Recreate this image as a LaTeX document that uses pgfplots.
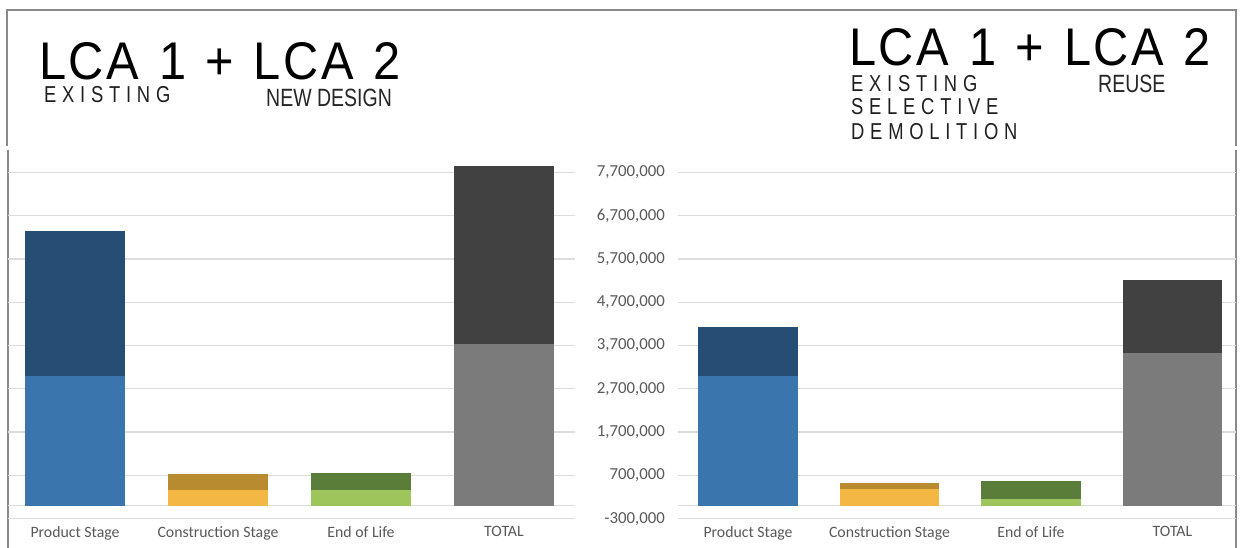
\documentclass[border=0pt]{standalone}
\usepackage{fontspec}
\setmainfont{Carlito}
\usepackage{pgfplots}
\pgfplotsset{compat=1.18}
\newfontfamily\titlefont[FakeStretch=0.92,LetterSpace=5]{Liberation Sans}
\newfontfamily\spacedfont[FakeStretch=0.8,LetterSpace=25]{Liberation Sans}
\newfontfamily\narrowfont[FakeStretch=0.78]{Liberation Sans}
\definecolor{blueL}{HTML}{3A75AE}
\definecolor{blueD}{HTML}{264E74}
\definecolor{yelL}{HTML}{F3B843}
\definecolor{yelD}{HTML}{B98B30}
\definecolor{grnL}{HTML}{9DC55B}
\definecolor{grnD}{HTML}{5A7D3A}
\definecolor{gryL}{HTML}{7B7B7B}
\definecolor{gryD}{HTML}{414141}
\definecolor{gridgray}{HTML}{DDDDDD}
\definecolor{labelgray}{HTML}{595959}
\definecolor{framegray}{HTML}{8A8A8A}
\newcommand{\lcatitle}{LCA\hspace{3.5pt} 1\hspace{3.5pt} +\hspace{3.5pt} LCA\hspace{3.5pt} 2}
\pgfplotsset{
  panel/.style={
    scale only axis, ybar,
    ymin=-400000, ymax=8000000, height=363.7pt,
    axis line style={draw=none}, major tick length=0pt,
    ytick={-300000,700000,1700000,2700000,3700000,4700000,5700000,6700000,7700000},
    scaled y ticks=false,
    ymajorgrids, grid style={line width=1.3pt, color=gridgray},
    extra y ticks={0}, extra y tick labels={},
    extra y tick style={grid style={line width=1.3pt, color=gridgray}},
    xtick={0,1,2,3},
    xticklabels={Product Stage, Construction Stage, End of Life, TOTAL},
    xticklabel style={anchor=north, inner sep=0pt, yshift=-3pt,
      font=\fontsize{15.8}{15.8}\selectfont, text=labelgray},
    yticklabel style={anchor=east, inner sep=0pt, xshift=-13pt,
      font=\fontsize{16.8}{16.8}\selectfont, text=labelgray},
  },
  bar/.style={fill=#1, draw=none, bar shift=0pt, bar width=0.706},
}
\begin{document}
\begin{tikzpicture}[x=1pt,y=1pt]
\fill[white] (0,0) rectangle (1241,548);
% frame
\draw[framegray, line width=1.6pt] (7,401.5) -- (7,538) -- (1236,538) -- (1236,401.5);
\draw[framegray, line width=1.6pt] (8,398) -- (8,0);
\draw[framegray, line width=1.6pt] (1236,398) -- (1236,0);
% titles
\node[anchor=base west, inner sep=0pt, font=\titlefont\fontsize{53}{53}\selectfont] at (39,468) {\lcatitle};
\node[anchor=base west, inner sep=0pt, font=\spacedfont\fontsize{23}{23}\selectfont, text=black!88] at (44,445) {EXISTING};
\node[anchor=base west, inner sep=0pt, font=\narrowfont\fontsize{25}{25}\selectfont, text=black!85] at (266,441) {NEW DESIGN};
\node[anchor=base west, inner sep=0pt, font=\titlefont\fontsize{53}{53}\selectfont] at (849,482) {\lcatitle};
\node[anchor=base west, inner sep=0pt, font=\spacedfont\fontsize{23}{23}\selectfont, text=black!88] at (851,456) {EXISTING};
\node[anchor=base west, inner sep=0pt, font=\spacedfont\fontsize{23}{23}\selectfont, text=black!88] at (851,433) {SELECTIVE};
\node[anchor=base west, inner sep=0pt, font=\spacedfont\fontsize{23}{23}\selectfont, text=black!88] at (851,408) {DEMOLITION};
\node[anchor=base west, inner sep=0pt, font=\narrowfont\fontsize{25}{25}\selectfont, text=black!85] at (1098,455) {REUSE};
% left panel
\begin{axis}[panel, at={(8pt,25pt)}, anchor=south west, width=567pt,
  xmin=-0.4685, xmax=3.4965, yticklabels={}]
\addplot[bar=blueD] coordinates {(0,6344000)};
\addplot[bar=blueL] coordinates {(0,3000000)};
\addplot[bar=yelD] coordinates {(1,734000)};
\addplot[bar=yelL] coordinates {(1,370000)};
\addplot[bar=grnD] coordinates {(2,762000)};
\addplot[bar=grnL] coordinates {(2,356000)};
\addplot[bar=gryD] coordinates {(3,7840000)};
\addplot[bar=gryL] coordinates {(3,3726000)};
\end{axis}
% right panel
\begin{axis}[panel, at={(678pt,25pt)}, anchor=south west, width=558pt,
  xmin=-0.495, xmax=3.449,
  yticklabels={{-300,000},{700,000},{1,700,000},{2,700,000},{3,700,000},{4,700,000},{5,700,000},{6,700,000},{7,700,000}}]
\addplot[bar=blueD] coordinates {(0,4127000)};
\addplot[bar=blueL] coordinates {(0,3000000)};
\addplot[bar=yelD] coordinates {(1,517000)};
\addplot[bar=yelL] coordinates {(1,379000)};
\addplot[bar=grnD] coordinates {(2,563000)};
\addplot[bar=grnL] coordinates {(2,155000)};
\addplot[bar=gryD] coordinates {(3,5207000)};
\addplot[bar=gryL] coordinates {(3,3534000)};
\end{axis}
\pgfresetboundingbox
\path[use as bounding box] (0,0) rectangle (1241,548);
\end{tikzpicture}
\end{document}
